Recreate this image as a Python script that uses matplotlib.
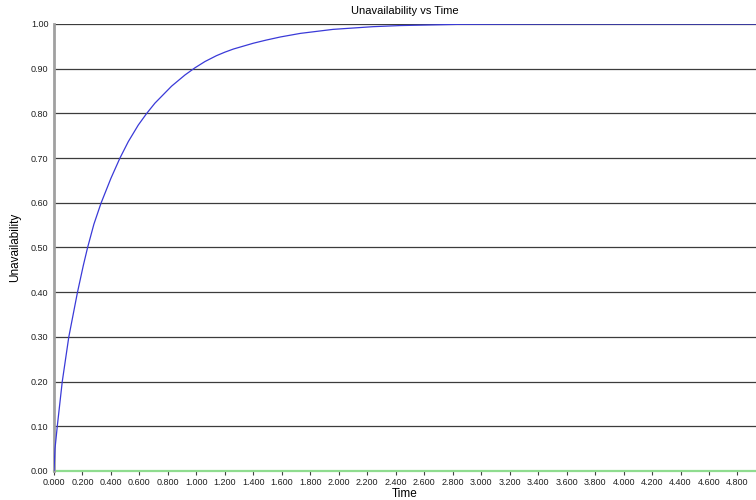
import matplotlib.pyplot as plt
from matplotlib.ticker import FormatStrFormatter, MultipleLocator

plt.rcParams['font.family'] = ['Liberation Sans', 'DejaVu Sans']

# значения
time = [0.0, 0.007, 0.023, 0.058, 0.104, 0.165, 0.206, 0.236, 0.28, 0.330,
        0.40, 0.463, 0.522, 0.592, 0.651, 0.709, 0.826, 0.920, 0.990, 1.06,
        1.14, 1.20, 1.26, 1.40, 1.49, 1.59, 1.73, 1.96, 2.24, 2.43,
        2.85, 3.50, 4.93]
unavailability = [0.0, 0.05, 0.10, 0.20, 0.30, 0.40, 0.46, 0.50, 0.552, 0.599,
                  0.655, 0.70, 0.737, 0.774, 0.80, 0.823, 0.861, 0.886, 0.902, 0.916,
                  0.929, 0.937, 0.944, 0.957, 0.964, 0.971, 0.979, 0.988, 0.994, 0.9965,
                  0.9993, 1.0, 1.0]
baseline_time = [0.0, 4.93]
baseline = [0.0, 0.0]

fig = plt.figure(figsize=(7.56, 5), dpi=100)
ax = fig.add_axes([54 / 756, 29 / 500, 1 - 54 / 756, 447 / 500])

ax.plot(time, unavailability, color='#3a3ad8', linewidth=0.9, zorder=3)
ax.plot(baseline_time, baseline, color='#8fdc8f', linewidth=1.6, zorder=2,
        clip_on=False)

ax.set_xlim(0, 4.93)
ax.set_ylim(0, 1.0)
ax.xaxis.set_major_locator(MultipleLocator(0.2))
ax.yaxis.set_major_locator(MultipleLocator(0.1))
ax.xaxis.set_major_formatter(FormatStrFormatter('%.3f'))
ax.yaxis.set_major_formatter(FormatStrFormatter('%.2f'))

ax.grid(axis='y', color='#3c3c3c', linewidth=0.9)
ax.set_axisbelow(True)
for s in ['top', 'right', 'bottom']:
    ax.spines[s].set_visible(False)
ax.spines['left'].set_color('#a0a0a0')
ax.spines['left'].set_linewidth(2)

ax.tick_params(axis='x', length=3, width=0.8, color='#404040', pad=2,
               labelsize=6.5, labelcolor='#202020')
ax.tick_params(axis='y', length=0, pad=4, labelsize=6.5, labelcolor='#202020')

ax.set_xlabel('Time', fontsize=8.5, labelpad=1)
ax.set_ylabel('Unavailability', fontsize=8.5, labelpad=7)
ax.set_title('Unavailability vs Time', fontsize=8, pad=7)

fig.savefig('out.png', dpi=100)
